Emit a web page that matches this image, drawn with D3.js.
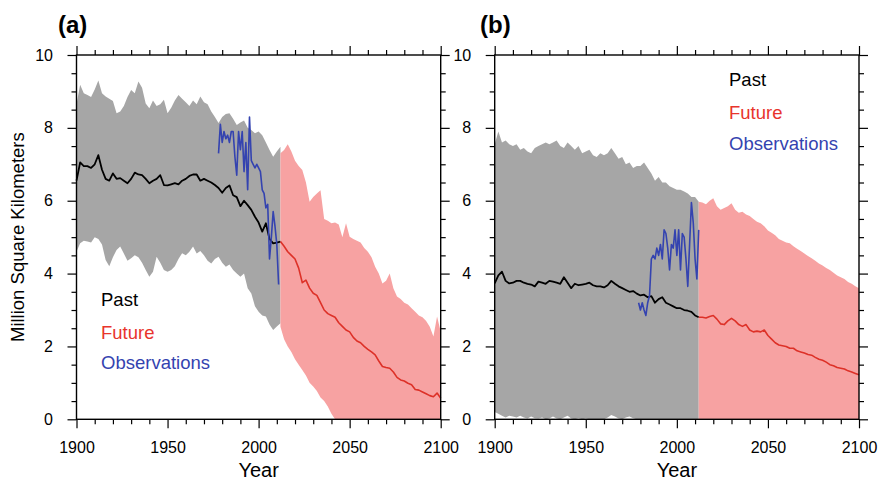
<!DOCTYPE html>
<html lang="en">
<head>
<meta charset="UTF-8">
<title>Sea ice extent: past, future, observations</title>
<script src="https://d3js.org/d3.v7.min.js"></script>
<style>
    body { margin: 0; padding: 0; background: #fff; }
    svg { display: block; font-family: "Liberation Sans", Arial, Helvetica, sans-serif; }
    .tick text { font-size: 16px; fill: #000; }
    .tick line { stroke: #000; stroke-width: 1.2; }
</style>
</head>
<body>
<svg id="chart"></svg>
<script>
// ---- data (million km^2) ----
const pastYears = d3.range(1900, 2013, 2);    // 1900 .. 2012
const futureYears = d3.range(2012, 2101, 2);  // 2012 .. 2100

// panel (a)
const pastMeanA = [6.55, 7.05, 6.95, 6.95, 6.9, 7.0, 7.25, 6.85, 6.6, 6.55, 6.75, 6.6, 6.62, 6.55, 6.48, 6.6, 6.77, 6.72, 6.7, 6.6,
    6.48, 6.55, 6.6, 6.7, 6.43, 6.42, 6.45, 6.48, 6.45, 6.55, 6.6, 6.68, 6.72, 6.72, 6.55, 6.6, 6.55, 6.5, 6.43, 6.35,
    6.22, 6.35, 6.42, 6.15, 6.1, 5.85, 6.0, 5.88, 5.75, 5.56, 5.4, 5.15, 5.38, 4.95, 4.83, 4.85, 4.88];
const pastHighA = [8.65, 9.18, 8.95, 8.9, 8.85, 9.05, 9.3, 8.95, 8.86, 8.8, 8.74, 8.4, 8.45, 8.6, 8.85, 9.04, 8.95, 9.27, 9.1, 8.67,
    8.54, 8.75, 8.6, 8.65, 8.77, 8.4, 8.55, 8.75, 8.9, 8.8, 8.7, 8.6, 8.75, 8.65, 8.86, 8.7, 8.65, 8.45, 8.3, 8.13,
    8.3, 8.38, 8.4, 8.25, 8.08, 8.15, 8.2, 8.0, 7.94, 7.85, 7.9, 7.8, 7.6, 7.39, 7.21, 7.35, 7.48];
const pastLowA = [4.6, 4.83, 4.9, 4.88, 4.85, 5.0, 4.95, 4.8, 4.37, 4.2, 4.45, 4.65, 4.74, 4.55, 4.35, 4.42, 4.5, 4.45, 4.3, 4.1,
    3.91, 4.05, 4.46, 4.3, 4.1, 4.05, 4.1, 4.2, 4.4, 4.56, 4.5, 4.6, 4.74, 4.55, 4.62, 4.5, 4.35, 4.28, 4.4, 4.46,
    4.3, 4.19, 4.25, 4.1, 4.0, 3.91, 4.0, 3.6, 3.45, 3.1, 2.95, 2.85, 2.82, 2.6, 2.45, 2.55, 2.64];
const futureMeanA = [4.88, 4.75, 4.6, 4.5, 4.4, 4.15, 3.75, 3.82, 3.6, 3.46, 3.4, 3.2, 3.0, 2.9, 2.85, 2.8, 2.65, 2.55, 2.45, 2.4,
    2.25, 2.15, 2.1, 2.0, 1.92, 1.85, 1.77, 1.6, 1.45, 1.42, 1.4, 1.3, 1.15, 1.08, 1.05, 0.99, 0.95, 0.82, 0.8, 0.75,
    0.7, 0.65, 0.62, 0.72, 0.58];
const futureHighA = [7.3, 7.39, 7.55, 7.35, 7.1, 6.95, 6.84, 6.5, 5.97, 6.1, 6.2, 6.29, 5.5, 5.45, 5.38, 5.4, 5.35, 5.0, 5.38, 5.01,
    4.95, 4.9, 4.85, 4.7, 4.6, 4.45, 4.19, 4.0, 3.73, 3.8, 4.0, 3.6, 3.37, 3.3, 3.2, 3.15, 3.05, 2.95, 2.85, 2.8,
    2.7, 2.54, 2.27, 2.82, 2.4];
const futureLowA = [2.54, 2.2, 2.0, 1.85, 1.65, 1.5, 1.35, 1.2, 1.0, 0.9, 0.78, 0.6, 0.5, 0.35, 0.15, 0, 0, 0, 0, 0,
    0, 0, 0, 0, 0, 0, 0, 0, 0, 0, 0, 0, 0, 0, 0, 0, 0, 0, 0, 0,
    0, 0, 0, 0, 0];
const obsYearsA = d3.range(1978, 2012);
const obsA = [7.3, 8.1, 7.6, 7.9, 7.7, 7.8, 7.6, 7.9, 7.9, 7.2, 6.7, 7.9, 7.4, 7.9, 6.8, 7.6, 6.3, 8.3, 7.1, 7.0,
    6.9, 7.0, 6.9, 6.8, 6.3, 6.2, 5.8, 5.9, 4.4, 5.0, 5.7, 5.3, 4.8, 3.7];

// panel (b)
const pastMeanB = [3.73, 3.95, 4.05, 3.8, 3.73, 3.75, 3.8, 3.8, 3.75, 3.72, 3.7, 3.65, 3.78, 3.75, 3.72, 3.8, 3.78, 3.75, 3.72, 3.9,
    3.75, 3.6, 3.72, 3.68, 3.7, 3.72, 3.75, 3.68, 3.65, 3.65, 3.62, 3.68, 3.8, 3.72, 3.65, 3.6, 3.55, 3.5, 3.52, 3.45,
    3.4, 3.42, 3.35, 3.38, 3.2, 3.3, 3.35, 3.2, 3.15, 3.1, 3.05, 3.05, 3.0, 2.98, 2.95, 2.85, 2.8];
const pastHighB = [7.55, 7.9, 7.6, 7.65, 7.55, 7.5, 7.55, 7.4, 7.45, 7.35, 7.3, 7.45, 7.5, 7.55, 7.6, 7.55, 7.6, 7.65, 7.5, 7.45,
    7.6, 7.5, 7.4, 7.5, 7.3, 7.35, 7.4, 7.25, 7.2, 7.3, 7.25, 7.3, 7.45, 7.3, 7.15, 7.2, 7.0, 7.05, 6.9, 6.95,
    6.95, 7.05, 6.9, 6.75, 6.55, 6.65, 6.5, 6.5, 6.4, 6.35, 6.3, 6.3, 6.25, 6.2, 6.1, 6.1, 5.97];
const pastLowB = [0.2, 0.15, 0.1, 0.05, 0.1, 0.08, 0.05, 0.1, 0.05, 0.02, 0.08, 0.03, 0.02, 0.05, 0, 0.02, 0.08, 0.02, 0, 0.05,
    0.1, 0.02, 0, 0.03, 0, 0.02, 0, 0, 0, 0, 0, 0.05, 0.12, 0.08, 0.02, 0, 0.05, 0.08, 0.03, 0,
    0, 0, 0, 0, 0, 0, 0, 0, 0, 0, 0, 0, 0, 0, 0, 0, 0];
const futureMeanB = [2.8, 2.8, 2.78, 2.82, 2.85, 2.75, 2.62, 2.6, 2.7, 2.77, 2.7, 2.6, 2.55, 2.6, 2.45, 2.4, 2.42, 2.4, 2.45, 2.3,
    2.2, 2.1, 2.04, 2.02, 2.0, 1.95, 1.95, 1.88, 1.85, 1.82, 1.78, 1.76, 1.7, 1.65, 1.62, 1.57, 1.5, 1.47, 1.42, 1.4,
    1.38, 1.33, 1.3, 1.26, 1.22];
const futureHighB = [5.97, 5.95, 5.9, 6.0, 6.07, 5.85, 5.75, 5.8, 5.85, 5.93, 5.75, 5.67, 5.7, 5.62, 5.58, 5.5, 5.42, 5.38, 5.3, 5.18,
    5.12, 5.05, 4.95, 4.9, 4.85, 4.83, 4.75, 4.68, 4.62, 4.55, 4.48, 4.42, 4.35, 4.28, 4.22, 4.15, 4.1, 4.02, 3.95, 3.9,
    3.85, 3.77, 3.72, 3.65, 3.6];
const futureLowB = futureYears.map(() => 0);
const obsYearsB = d3.range(1979, 2013);
const obsB = [3.2, 3.0, 3.2, 3.0, 2.85, 3.2, 3.4, 4.4, 4.5, 4.4, 4.7, 4.5, 4.8, 4.4, 5.2, 5.1, 4.7, 4.1, 4.8, 4.7,
    5.2, 4.5, 5.2, 4.1, 5.1, 5.0, 4.4, 3.65, 4.8, 5.95, 5.4, 4.4, 3.85, 5.2];

const legendLabels = ["Past", "Future", "Observations"];

// ---- layout ----
const W = 879, H = 482;
const plotTop = 55, plotBottom = 419.3;
const colors = { band: "#a6a6a6", pink: "#f7a2a2", past: "#000", future: "#dd3128", obs: "#3443b0" };
const legendColors = ["#000", "#e8342c", "#3443b0"];

const svg = d3.select("#chart").attr("width", W).attr("height", H);

const panels = [
    { tag: "(a)", left: 76.5, right: 440.7, tagX: 58,
      pastMean: pastMeanA, pastHigh: pastHighA, pastLow: pastLowA,
      futMean: futureMeanA, futHigh: futureHighA, futLow: futureLowA,
      obsYears: obsYearsA, obs: obsA, legX: 101, legY: [306, 339, 369], ylabel: true },
    { tag: "(b)", left: 494.7, right: 859, tagX: 480,
      pastMean: pastMeanB, pastHigh: pastHighB, pastLow: pastLowB,
      futMean: futureMeanB, futHigh: futureHighB, futLow: futureLowB,
      obsYears: obsYearsB, obs: obsB, legX: 729, legY: [86, 119, 150], ylabel: false }
];

panels.forEach(p => {
    const x = d3.scaleLinear().domain([1900, 2100]).range([p.left, p.right]);
    const y = d3.scaleLinear().domain([0, 10]).range([plotBottom, plotTop]);
    const g = svg.append("g");

    const band = (hi, lo) => d3.area()
        .x((d, i) => x(d))
        .y0((d, i) => y(lo[i]))
        .y1((d, i) => y(hi[i]));
    const line = vals => d3.line()
        .x(d => x(d))
        .y((d, i) => y(vals[i]));

    // shaded ranges
    g.append("path").datum(pastYears)
        .attr("fill", colors.band)
        .attr("d", band(p.pastHigh, p.pastLow));
    g.append("path").datum(futureYears)
        .attr("fill", colors.pink)
        .attr("d", band(p.futHigh, p.futLow));

    // mean lines
    g.append("path").datum(pastYears)
        .attr("fill", "none").attr("stroke", colors.past).attr("stroke-width", 1.8)
        .attr("stroke-linejoin", "round")
        .attr("d", line(p.pastMean));
    g.append("path").datum(futureYears)
        .attr("fill", "none").attr("stroke", colors.future).attr("stroke-width", 1.6)
        .attr("stroke-linejoin", "round")
        .attr("d", line(p.futMean));

    // observations
    g.append("path").datum(p.obsYears)
        .attr("fill", "none").attr("stroke", colors.obs).attr("stroke-width", 1.6)
        .attr("stroke-linejoin", "round")
        .attr("d", line(p.obs));

    // axes: majors + minors on all four sides, ticks pointing outward
    const xMajor = d3.range(1900, 2101, 50), xMinor = d3.range(1900, 2101, 10).filter(v => v % 50);
    const yMajor = d3.range(0, 11, 2), yMinor = d3.range(0, 10.01, 0.5).filter(v => v % 2);

    const axes = [
        { f: d3.axisBottom, s: x, t: `translate(0,${plotBottom})`, labels: true },
        { f: d3.axisTop, s: x, t: `translate(0,${plotTop})`, labels: false },
        { f: d3.axisLeft, s: y, t: `translate(${p.left},0)`, labels: true },
        { f: d3.axisRight, s: y, t: `translate(${p.right},0)`, labels: false }
    ];
    axes.forEach(a => {
        const isX = a.s === x;
        const major = a.f(a.s).tickValues(isX ? xMajor : yMajor).tickSize(9)
            .tickPadding(isX ? 13 : 14.5).tickFormat(a.labels ? d3.format("d") : "");
        const minor = a.f(a.s).tickValues(isX ? xMinor : yMinor).tickSize(5).tickFormat("");
        g.append("g").attr("transform", a.t).call(major).call(s => s.select(".domain").remove());
        g.append("g").attr("transform", a.t).call(minor).call(s => s.select(".domain").remove());
    });

    // frame
    g.append("rect")
        .attr("x", p.left).attr("y", plotTop)
        .attr("width", p.right - p.left).attr("height", plotBottom - plotTop)
        .attr("fill", "none").attr("stroke", "#000").attr("stroke-width", 1.4);

    // panel tag
    g.append("text").attr("x", p.tagX).attr("y", 33)
        .style("font-size", "24px").style("font-weight", "bold")
        .text(p.tag);

    // x title
    g.append("text").attr("x", (p.left + p.right) / 2).attr("y", 477)
        .attr("text-anchor", "middle").style("font-size", "20px")
        .text("Year");

    // legend (text only)
    legendLabels.forEach((lab, i) => {
        g.append("text").attr("x", p.legX).attr("y", p.legY[i])
            .style("font-size", "18.5px").attr("fill", legendColors[i])
            .text(lab);
    });

    if (p.ylabel) {
        g.append("text")
            .attr("transform", `translate(24,${(plotTop + plotBottom) / 2}) rotate(-90)`)
            .attr("text-anchor", "middle").style("font-size", "18.5px")
            .text("Million Square Kilometers");
    }
});
</script>
</body>
</html>
